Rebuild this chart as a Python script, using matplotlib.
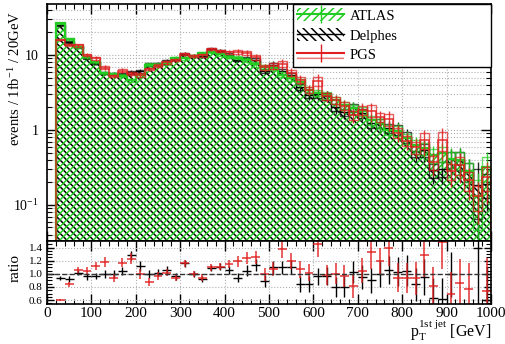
import numpy as np
import matplotlib
matplotlib.use("Agg")
import matplotlib.pyplot as plt
from matplotlib.patches import Patch
from matplotlib.lines import Line2D

plt.rcParams['font.family'] = ['Liberation Serif', 'DejaVu Serif']
plt.rcParams['mathtext.fontset'] = 'custom'
plt.rcParams['mathtext.rm'] = 'Liberation Serif'
plt.rcParams['mathtext.it'] = 'Liberation Serif'
plt.rcParams['hatch.linewidth'] = 1.1

# bins: 20 GeV wide, 20..1000
edges = np.arange(20, 1001, 20)
centers = edges[:-1] + 10

# ATLAS histogram (events / 1fb-1 / 20 GeV)
atlas = [26.5, 16.3, 12.7, 9.5, 8.1, 5.75, 5.6, 5.3, 4.6, 5.4,
         7.4, 7.4, 7.8, 9.2, 9.0, 9.8, 10.5, 10.9, 10.2, 9.5,
         9.2, 8.6, 7.5, 6.9, 6.7, 5.5, 4.9, 4.4, 3.4, 3.1,
         2.9, 2.5, 2.15, 1.95, 1.77, 1.36, 1.23, 1.0, 0.98, 0.77,
         0.63, 0.57, 0.46, 0.49, 0.41, 0.40, 0.28, 0.13, 0.32]

# ratio Delphes / ATLAS
ratio_delphes = [0.94, 0.92, 1.02, 0.96, 0.97, 1.0, 1.0, 1.04, 1.28, 1.12,
                 1.0, 1.02, 1.06, 0.96, 1.16, 1.0, 0.92, 1.09, 1.11, 1.06,
                 0.94, 1.05, 1.13, 0.89, 1.1, 1.1, 1.1, 0.85, 0.85, 0.96,
                 0.97, 0.8, 0.8, 1.03, 0.95, 0.9, 1.0, 1.06, 1.03, 1.05,
                 0.84, 0.95, 0.63, 0.62, 0.99, np.nan, np.nan, 1.4, 0.6]
err_delphes = [0.03, 0.04, 0.04, 0.05, 0.05, 0.06, 0.06, 0.06, 0.07, 0.07,
               0.06, 0.06, 0.06, 0.05, 0.05, 0.05, 0.05, 0.05, 0.05, 0.06,
               0.07, 0.08, 0.09, 0.09, 0.10, 0.10, 0.11, 0.12, 0.12, 0.13,
               0.14, 0.15, 0.16, 0.17, 0.18, 0.19, 0.20, 0.21, 0.22, 0.23,
               0.25, 0.27, 0.30, 0.32, 0.34, 0.37, 0.40, 0.90, 0.50]

# ratio PGS / ATLAS
ratio_pgs = [0.6, 0.84, 1.06, 1.05, 1.12, 1.18, 0.94, 1.17, 1.23, 1.0,
             0.88, 0.97, 1.02, 0.94, 1.16, 1.0, 0.94, 1.1, 1.11, 1.15,
             1.19, 1.24, 1.25, 0.99, 1.07, 1.38, 1.19, 1.07, 1.02, 1.45,
             0.98, 1.0, 0.97, 0.81, 1.05, 1.33, 1.2, 1.39, 0.94, 0.94,
             0.93, 1.28, 0.81, 1.48, 0.69, 0.86, 0.77, np.nan, 0.74]
err_pgs = [0.02, 0.04, 0.05, 0.05, 0.06, 0.07, 0.06, 0.07, 0.08, 0.08,
           0.06, 0.06, 0.06, 0.05, 0.05, 0.05, 0.05, 0.05, 0.05, 0.06,
           0.08, 0.09, 0.10, 0.10, 0.11, 0.14, 0.12, 0.13, 0.13, 0.20,
           0.15, 0.16, 0.17, 0.18, 0.19, 0.25, 0.20, 0.27, 0.22, 0.23,
           0.25, 0.33, 0.30, 0.40, 0.34, 0.37, 0.40, 0.50, 0.50]

green = '#22cc22'
red = '#e02020'

atlas = np.array(atlas)
rd = np.array(ratio_delphes)
rp = np.array(ratio_pgs)
delphes = atlas * np.where(np.isnan(rd), 1.0, rd)
pgs = atlas * np.where(np.isnan(rp), 1.0, rp)
atlas_err = atlas * np.array(err_delphes) / 1.4
delphes_err = delphes * np.array(err_delphes) / 1.4
pgs_err = pgs * np.array(err_pgs) / 1.4

fig = plt.figure(figsize=(5.05, 3.44), dpi=100)
ax = fig.add_axes([47/505, 1-241/344, 444/505, 237/344])
rax = fig.add_axes([47/505, 1-304/344, 444/505, 63/344])

ax.set_yscale('log')
ymin, ymax = 0.033, 48

# hatched histograms (white fill hides the grid below)
ax.stairs(delphes, edges, fill=True, baseline=1e-4, facecolor='white',
          edgecolor='black', hatch='\\\\\\\\\\', lw=0, zorder=2)
ax.stairs(atlas, edges, fill=True, baseline=1e-4, facecolor='none',
          edgecolor=green, hatch='/////', lw=0, zorder=3)

# outlines + error boxes + bars
for vals, errs, col, lw, z in [(atlas, atlas_err, green, 1.6, 5),
                               (delphes, delphes_err, 'black', 1.0, 4),
                               (pgs, pgs_err, red, 1.2, 6)]:
    ax.stairs(vals, edges, baseline=1e-4, color=col, lw=lw, zorder=z,
              alpha=0.85 if col == red else 1)
    ax.bar(centers, 2*errs, width=20, bottom=vals-errs, fill=False,
           edgecolor=col, lw=1, zorder=z, alpha=0.7)
    ax.errorbar(centers, vals, yerr=errs*1.6, fmt='none', ecolor=col,
                elinewidth=1, zorder=z, alpha=0.85)

ax.set_xlim(0, 1000)
ax.set_ylim(ymin, ymax)
ax.set_yticks([0.1, 1, 10])
ax.set_yticklabels(['$10^{-1}$', '1', '10'])
ax.set_xticks(np.arange(0, 1001, 100))
ax.set_xticks(np.arange(0, 1001, 20), minor=True)
ax.tick_params(labelbottom=False)
ax.grid(True, which='major', ls=':', color='#b0b0b0', lw=0.8, zorder=0)
ax.grid(True, which='minor', axis='y', ls=':', color='#b0b0b0', lw=0.8, zorder=0)
ax.set_axisbelow(True)

# ratio panel
rax.errorbar(centers, rd, xerr=10, yerr=err_delphes, fmt='none',
             ecolor='black', elinewidth=1)
rax.errorbar(centers, rp, xerr=10, yerr=err_pgs, fmt='none',
             ecolor=red, elinewidth=1.2, alpha=0.85)
rax.axhline(1.0, color='#333333', ls='--', lw=1)
rax.set_xlim(0, 1000)
rax.set_ylim(0.54, 1.5)
rax.set_yticks([0.6, 0.8, 1.0, 1.2, 1.4])
rax.set_yticklabels(['0.6', '0.8', '1.0', '1.2', '1.4'])
rax.set_yticks(np.arange(0.55, 1.5, 0.05), minor=True)
rax.set_xticks(np.arange(0, 1001, 100))
rax.set_xticks(np.arange(0, 1001, 20), minor=True)
rax.grid(True, which='major', ls=':', color='#b0b0b0', lw=0.8)

for a in (ax, rax):
    a.tick_params(which='both', direction='in', top=True, right=True)
    a.tick_params(which='major', length=7, width=1)
    a.tick_params(which='minor', length=3.5, width=0.8)
    for s in a.spines.values():
        s.set_linewidth(1.2)
        s.set_zorder(20)
ax.tick_params(axis='y', labelsize=10, pad=6)
rax.tick_params(axis='y', labelsize=8, pad=3, length=5)
rax.tick_params(axis='x', labelsize=11, pad=2)

fig.text(15/505, 1-78/344, 'events / 1fb$^{-1}$ / 20GeV', rotation=90,
         ha='center', va='center', fontsize=10.5)
fig.text(15/505, 1-268/344, 'ratio', rotation=90, ha='center',
         va='center', fontsize=11)
fig.text(491/505, 1-337/344, r'p$_{\rm T}^{\rm 1st\ jet}$ [GeV]',
         ha='right', va='baseline', fontsize=11.5)

# legend
h_atlas = (Patch(facecolor='white', edgecolor=green, hatch='////', lw=0),
           Line2D([], [], color=green, lw=1.5, marker='|', markersize=13))
h_delphes = (Patch(facecolor='white', edgecolor='black', hatch='\\\\\\\\', lw=0),
             Line2D([], [], color='black', lw=1.0))
h_pgs = (Patch(facecolor='white', edgecolor=red, hatch='---', lw=0, alpha=0.6),
         Line2D([], [], color=red, lw=1.5, marker='|', markersize=13))
leg = ax.legend([h_atlas, h_delphes, h_pgs], ['ATLAS', 'Delphes', 'PGS'],
                loc='upper left',
                bbox_to_anchor=((293-47)/444, 1.0, (491-293)/444, 0),
                mode='expand', fontsize=10.5,
                frameon=True, fancybox=False, edgecolor='black', framealpha=1,
                borderaxespad=0, handlelength=3.2, handleheight=1.0,
                borderpad=0.3, labelspacing=0.35, handletextpad=0.4)
leg.get_frame().set_linewidth(1.0)
leg.set_zorder(30)

fig.savefig('out.png', dpi=100)
